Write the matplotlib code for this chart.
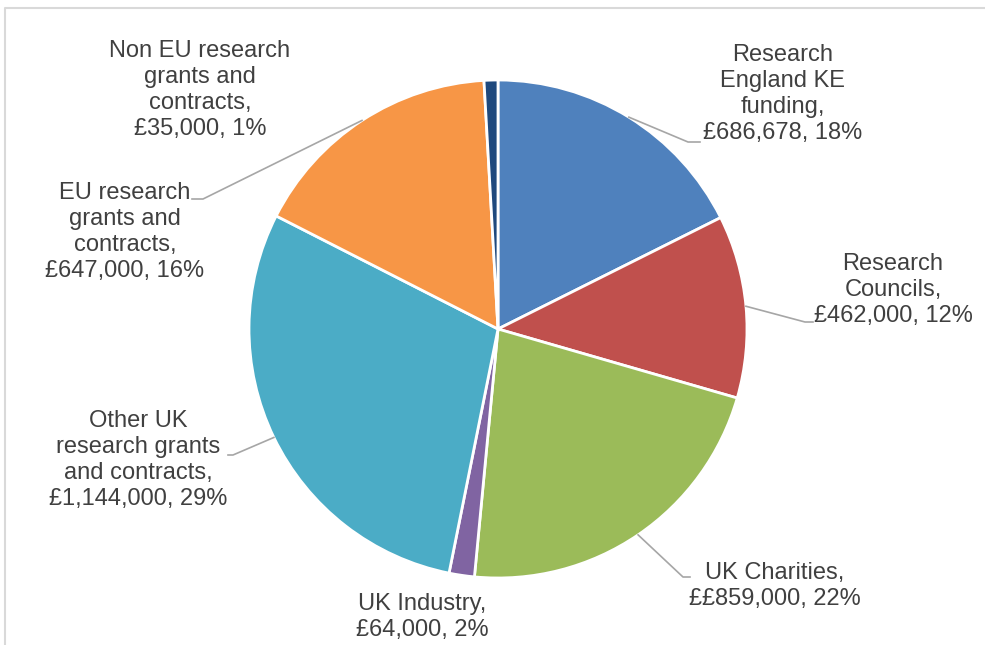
import numpy as np
import matplotlib
matplotlib.use("Agg")
from matplotlib import pyplot as plt

# ---------------------------------------------------------------------------------------------------
# Data
# ---------------------------------------------------------------------------------------------------
names = [
    "Research\nEngland KE\nfunding,",
    "Research\nCouncils,",
    "UK Charities,",
    "UK Industry,",
    "Other UK\nresearch grants\nand contracts,",
    "EU research\ngrants and\ncontracts,",
    "Non EU research\ngrants and\ncontracts,",
]
amounts = [686678, 462000, 859000, 64000, 1144000, 647000, 35000]
prefixes = ["£", "£", "££", "£", "£", "£", "£"]
percents = [18, 12, 22, 2, 29, 16, 1]
colors = ["#4F81BD", "#C0504D", "#9BBB59", "#8064A2", "#4BACC6", "#F79646", "#1F497D"]

# label centres (pixels from top-left) and leader elbow points (None = no leader)
label_pos = [(783, 94), (893, 290), (775, 586), (422, 617), (138, 460), (125, 232), (200, 90)]
elbows = [((688, 142), (700, 142)), ((805, 322), (813, 322)), ((683, 577), (690, 577)),
          None, ((233, 455), (228, 455)), ((203, 199), (192, 199)), None]

W, H = 985, 645
CX, CY, R = 498, 329, 249

# ---------------------------------------------------------------------------------------------------
# Plot
# ---------------------------------------------------------------------------------------------------
plt.rcParams["font.family"] = ["Liberation Sans", "DejaVu Sans"]
fig = plt.figure(figsize=(W / 100, H / 100), dpi=100)
ax = fig.add_axes([0, 0, 1, 1])

wedges, _ = ax.pie(amounts, colors=colors, startangle=90, counterclock=False,
                   center=(CX, H - CY), radius=R, frame=True,
                   wedgeprops=dict(edgecolor="white", linewidth=2))
ax.set_xlim(0, W)
ax.set_ylim(0, H)
ax.set_aspect("equal")
ax.axis("off")

# light frame along the top and left
ax.plot([5, 5, W], [0, H - 8, H - 8], color="#d9d9d9", lw=1.5)

for w, name, amt, pre, pct, (lx, ly), elb in zip(wedges, names, amounts, prefixes, percents,
                                                 label_pos, elbows):
    text = f"{name}\n{pre}{amt:,}, {pct}%"
    ax.text(lx, H - ly, text, ha="center", va="center", fontsize=17,
            color="#404040", linespacing=1.23)
    if elb is None:
        continue
    ang = np.deg2rad((w.theta1 + w.theta2) / 2)
    px, py = CX + R * np.cos(ang), (H - CY) + R * np.sin(ang)
    xs = [px, elb[0][0], elb[1][0]]
    ys = [py, H - elb[0][1], H - elb[1][1]]
    ax.plot(xs, ys, color="#a6a6a6", lw=1.2)

fig.savefig("out.png", dpi=100)
